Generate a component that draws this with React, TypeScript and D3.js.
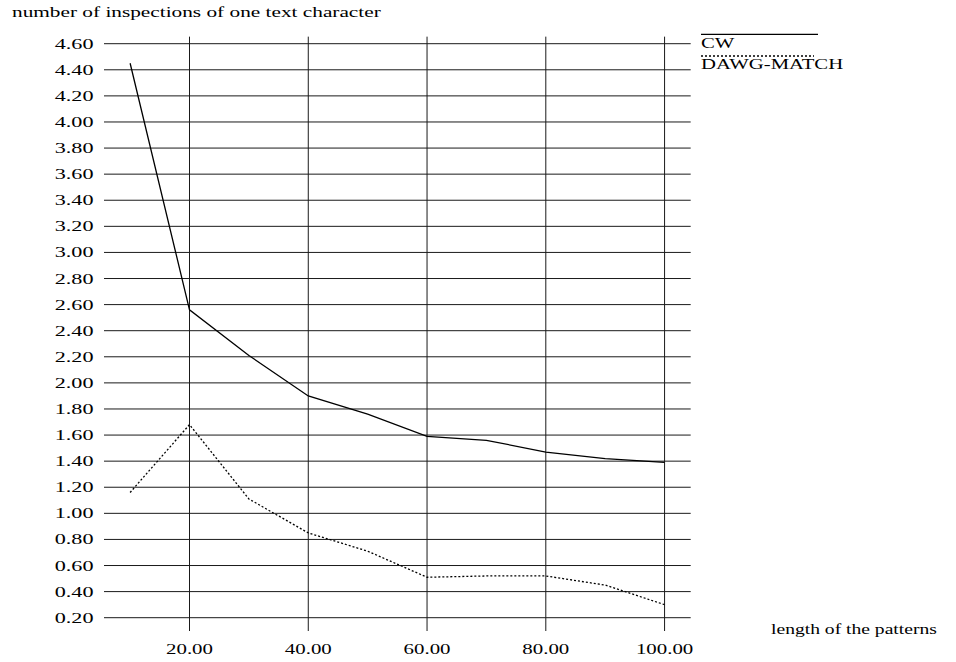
import React from "react";
import * as d3 from "d3";

// pattern lengths
const lengths = [10, 20, 30, 40, 50, 60, 70, 80, 90, 100];
// number of inspections per text character
const cwValues = [4.45, 2.56, 2.21, 1.9, 1.76, 1.59, 1.56, 1.47, 1.42, 1.39];
const dawgValues = [1.16, 1.68, 1.11, 0.85, 0.71, 0.51, 0.52, 0.52, 0.45, 0.3];
const seriesNames = ["CW", "DAWG-MATCH"];

const yTicks = d3.range(0.2, 4.61, 0.2);
const xTicks = [20, 40, 60, 80, 100];

const yTitle = "number of inspections of one text character";
const xTitle = "length of the patterns";

const W = 956;
const H = 662;
const FONT = "'Liberation Serif', 'Times New Roman', serif";

// x domain covers the grid extent, a bit wider than the data
const x = d3.scaleLinear().domain([5.6, 104.4]).range([104, 690.7]);
const y = d3.scaleLinear().domain([0.2, 4.6]).range([617.7, 43.7]);

function Txt({ tx, ty, anchor = "start", size = 14, sx = 1.45, children }) {
  return (
    <text
      transform={`translate(${tx},${ty}) scale(${sx},1)`}
      textAnchor={anchor}
      fontFamily={FONT}
      fontSize={size}
      fill="#000"
    >
      {children}
    </text>
  );
}

export default function App() {
  const line = d3
    .line<number>()
    .x((_, i) => x(lengths[i]))
    .y((d) => y(d));

  const [gx0, gx1] = x.range();
  const vTop = y(4.654);
  const vBottom = y(0.098);

  return (
    <svg
      width={W}
      height={H}
      style={{ position: "absolute", left: 0, top: 0, background: "#fff" }}
    >
      <Txt tx={12} ty={16.7} size={15} sx={1.42}>
        {yTitle}
      </Txt>

      {/* horizontal grid + y labels */}
      {yTicks.map((t) => (
        <g key={"y" + t.toFixed(2)}>
          <line x1={gx0} x2={gx1} y1={y(t)} y2={y(t)} stroke="#1a1a1a" strokeWidth={1} />
          <Txt tx={93.5} ty={y(t) + 5} anchor="end" size={14.3} sx={1.55}>
            {t.toFixed(2)}
          </Txt>
        </g>
      ))}

      {/* vertical grid + x labels */}
      {xTicks.map((t) => (
        <g key={"x" + t}>
          <line x1={x(t)} x2={x(t)} y1={vTop} y2={vBottom} stroke="#1a1a1a" strokeWidth={1} />
          <Txt tx={x(t)} ty={654} anchor="middle" size={14.3} sx={1.46}>
            {t.toFixed(2)}
          </Txt>
        </g>
      ))}

      <Txt tx={771} ty={634} sx={1.4}>
        {xTitle}
      </Txt>

      {/* series */}
      <path d={line(cwValues) ?? ""} fill="none" stroke="#000" strokeWidth={1.3} />
      <path
        d={line(dawgValues) ?? ""}
        fill="none"
        stroke="#000"
        strokeWidth={1.3}
        strokeDasharray="2,2"
      />

      {/* legend */}
      <line x1={701} x2={818} y1={34.3} y2={34.3} stroke="#000" strokeWidth={1.3} />
      <Txt tx={701} ty={47.7} sx={1.48}>
        {seriesNames[0]}
      </Txt>
      <line
        x1={701}
        x2={814}
        y1={56}
        y2={56}
        stroke="#000"
        strokeWidth={1.3}
        strokeDasharray="2,2"
      />
      <Txt tx={701} ty={69} sx={1.48}>
        {seriesNames[1]}
      </Txt>
    </svg>
  );
}
